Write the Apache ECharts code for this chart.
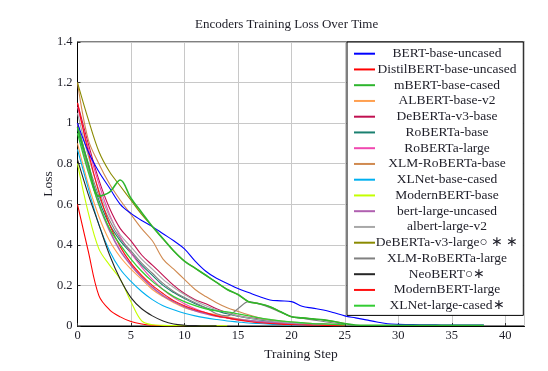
<!DOCTYPE html>
<html>
<head>
<meta charset="utf-8">
<script src="https://cdn.jsdelivr.net/npm/echarts@6/dist/echarts.min.js"></script>
<style>html,body{margin:0;padding:0;background:#fff;}#c{width:548px;height:371px;}</style>
</head>
<body>
<div id="c"></div>
<script>
const steps = [0,1,2,3,4,5,6,7,8,9,10,11,12,13,14,15,16,17,18,19,20,21,22,23,24,25,26,27,28,29,30,31,32,33,34,35,36,37,38];
const xTicks = [0,5,10,15,20,25,30,35,40];
const yTicks = [0,0.2,0.4,0.6,0.8,1,1.2,1.4];

const names = ['BERT-base-uncased','DistilBERT-base-uncased','mBERT-base-cased','ALBERT-base-v2','DeBERTa-v3-base','RoBERTa-base','RoBERTa-large','XLM-RoBERTa-base','XLNet-base-cased','ModernBERT-base','bert-large-uncased','albert-large-v2','DeBERTa-v3-large○ ∗ ∗','XLM-RoBERTa-large','NeoBERT○∗','ModernBERT-large','XLNet-large-cased∗'];

const bertBase = [1.0,0.86,0.76,0.68,0.6,0.555,0.52,0.49,0.455,0.42,0.38,0.32,0.27,0.235,0.21,0.185,0.165,0.145,0.128,0.124,0.12,0.097,0.088,0.079,0.065,0.05,0.04,0.03,0.02,0.011,0.008,0.007,0.006,0.006,0.005,0.005,0.005,0.005,0.005];
const distilBert = [0.6,0.37,0.15,0.08,0.045,0.022,0.01,0.004,0.002,0.001,0.001];
const mBert = [0.98,0.8,0.64,0.66,0.72,0.63,0.56,0.49,0.43,0.37,0.32,0.285,0.25,0.215,0.18,0.155,0.12,0.11,0.095,0.07,0.046,0.04,0.035,0.03,0.022,0.012,0.005,0.004,0.004,0.004,0.004,0.004,0.004,0.004,0.004,0.004,0.004,0.004,0.004];
const albertBase = [0.9,0.7,0.54,0.42,0.34,0.28,0.23,0.18,0.145,0.115,0.09,0.075,0.065,0.055,0.045,0.036,0.028,0.022,0.017,0.013,0.01,0.008,0.006,0.005,0.004,0.003];
const debertaBase = [1.1,0.9,0.72,0.58,0.48,0.42,0.35,0.3,0.25,0.2,0.16,0.13,0.11,0.085,0.065,0.05,0.042,0.034,0.027,0.021,0.017,0.013,0.01,0.008,0.006,0.005];
const robertaBase = [0.97,0.78,0.62,0.5,0.42,0.36,0.3,0.25,0.2,0.165,0.135,0.11,0.09,0.075,0.06,0.048,0.038,0.03,0.024,0.019,0.015,0.012,0.01,0.008,0.006,0.005];
const robertaLarge = [1.08,0.88,0.7,0.55,0.44,0.36,0.29,0.23,0.18,0.14,0.11,0.085,0.065,0.05,0.04,0.03,0.024,0.018,0.014,0.011,0.009,0.007,0.006,0.005,0.004,0.003];
const xlmrBase = [1.2,0.92,0.8,0.7,0.62,0.55,0.48,0.42,0.33,0.28,0.23,0.18,0.145,0.115,0.09,0.072,0.055,0.04,0.03,0.025,0.02,0.016,0.012,0.01,0.008,0.006];
const xlnetBase = [0.87,0.68,0.5,0.37,0.28,0.22,0.17,0.13,0.1,0.08,0.063,0.05,0.04,0.032,0.025,0.02,0.015,0.012,0.009,0.007,0.005,0.004,0.003,0.003,0.002,0.002];
const modernBase = [0.8,0.56,0.38,0.3,0.23,0.12,0.025,0.006,0.003,0.002,0.002,0.001,0.001,0.001,0.001];
const bertLarge = [1.0,0.78,0.6,0.47,0.37,0.3,0.24,0.19,0.15,0.12,0.095,0.075,0.06,0.048,0.04,0.033,0.027,0.022,0.018,0.015,0.012,0.01,0.008,0.007,0.006,0.005];
const albertLarge = [1.05,0.84,0.67,0.54,0.45,0.39,0.33,0.28,0.23,0.19,0.155,0.125,0.1,0.08,0.065,0.05,0.04,0.032,0.025,0.02,0.016,0.012,0.01,0.008,0.006,0.005];
const debertaLarge = [1.2,1.02,0.86,0.76,0.69,0.62,0.55,0.49,0.43,0.37,0.32,0.285,0.25,0.215,0.18,0.155,0.12,0.11,0.095,0.07,0.046,0.04,0.035,0.03,0.022,0.012];
const xlmrLarge = [1.0,0.8,0.64,0.52,0.43,0.37,0.31,0.26,0.21,0.17,0.14,0.115,0.09,0.06,0.05,0.085,0.12,0.108,0.09,0.068,0.046,0.038,0.03,0.022,0.015,0.008];
const neoBert = [0.82,0.65,0.5,0.35,0.23,0.14,0.085,0.05,0.025,0.01,0.004,0.002,0.001,0.001];
const modernLarge = [1.1,0.86,0.66,0.5,0.39,0.31,0.25,0.2,0.16,0.125,0.1,0.08,0.065,0.05,0.04,0.03,0.022,0.016,0.012,0.009,0.007,0.005,0.004,0.003,0.002,0.002];
const xlnetLarge = [0.95,0.76,0.6,0.48,0.4,0.33,0.27,0.22,0.18,0.145,0.12,0.1,0.085,0.075,0.07,0.06,0.05,0.04,0.032,0.025,0.02,0.016,0.012,0.01,0.008,0.006];

const seriesValues = [bertBase,distilBert,mBert,albertBase,debertaBase,robertaBase,robertaLarge,xlmrBase,xlnetBase,modernBase,bertLarge,albertLarge,debertaLarge,xlmrLarge,neoBert,modernLarge,xlnetLarge];
const colors = ['#0000ff','#ff0000','#2db52d','#ffa050','#c01050','#1a8070','#f048b0','#d08a50','#00b0f0','#c4ff00','#b060b0','#a8a8a8','#8a8a00','#808080','#262626','#ff1010','#33cc33'];
const widths = [1.1,1.1,1.6,1.1,1.1,1.1,1.1,1.1,1.1,1.1,1.6,1.1,1.1,1.1,1.1,1.1,1.3];
const zs = [4,2,4,2,2,2,2,2,2,2,2,2,3,2,2,2,2];

const FONT = 'Liberation Serif';
const TXT = '#1e1e28';

const series = names.map((n, k) => ({
  name: n,
  type: 'line',
  smooth: 0.35,
  symbol: 'none',
  z: zs[k],
  color: colors[k],
  lineStyle: { width: widths[k], color: colors[k] },
  emphasis: { disabled: true },
  data: seriesValues[k].map((v, i) => [steps[i], v])
}));

const chart = echarts.init(document.getElementById('c'), null, { renderer: 'canvas' });
chart.setOption({
  animation: false,
  backgroundColor: '#fff',
  title: {
    text: 'Encoders Training Loss Over Time',
    left: 190, top: 13,
    textStyle: { fontFamily: FONT, fontSize: 13, fontWeight: 'normal', color: TXT }
  },
  grid: { left: 77.5, right: 23.5, top: 42, bottom: 45, show: true, borderColor: '#000', borderWidth: 1, backgroundColor: 'transparent' },
  xAxis: {
    type: 'value', min: 0, max: 41.8, interval: 5,
    name: 'Training Step', nameLocation: 'middle', nameGap: 21, nameMoveOverlap: false,
    nameTextStyle: { fontFamily: FONT, fontSize: 13.5, color: TXT },
    axisLine: { lineStyle: { color: '#000', width: 1 } },
    axisTick: { inside: true, length: 3, lineStyle: { color: '#333' } },
    axisLabel: { fontFamily: FONT, fontSize: 12.5, color: TXT, margin: 3, showMaxLabel: false,
      formatter: v => xTicks.includes(v) ? String(v) : '' },
    splitLine: { show: true, lineStyle: { color: '#c8c8c8', width: 1 } }
  },
  yAxis: {
    type: 'value', min: 0, max: 1.4, interval: 0.2,
    name: 'Loss', nameLocation: 'middle', nameGap: 22, nameRotate: 90, nameMoveOverlap: false,
    nameTextStyle: { fontFamily: FONT, fontSize: 13.5, color: TXT },
    axisLine: { show: true, lineStyle: { color: '#000', width: 1 } },
    axisTick: { show: true, inside: true, length: 3, lineStyle: { color: '#333' } },
    axisLabel: { fontFamily: FONT, fontSize: 12.5, color: TXT, margin: 5,
      formatter: v => { const t = yTicks.find(y => Math.abs(y - v) < 1e-9); return t === undefined ? '' : String(t); } },
    splitLine: { show: true, lineStyle: { color: '#c8c8c8', width: 1 } }
  },
  legend: {
    orient: 'vertical', left: 347, top: 42,
    itemWidth: 21, itemHeight: 10, itemGap: 1.75,
    padding: [4.7, 5, 2.7, 6],
    backgroundColor: '#fff', borderColor: '#000', borderWidth: 1, borderRadius: 0,
    selectedMode: false,
    itemStyle: { opacity: 0 },
    data: names,
    formatter: n => '{a|' + n + '}',
    textStyle: {
      fontFamily: FONT, fontSize: 13.5, color: TXT,
      rich: { a: { width: 134, align: 'center', fontFamily: FONT, fontSize: 13.5, color: TXT, lineHeight: 15.75 } }
    }
  },
  series: series
});
</script>
</body>
</html>
